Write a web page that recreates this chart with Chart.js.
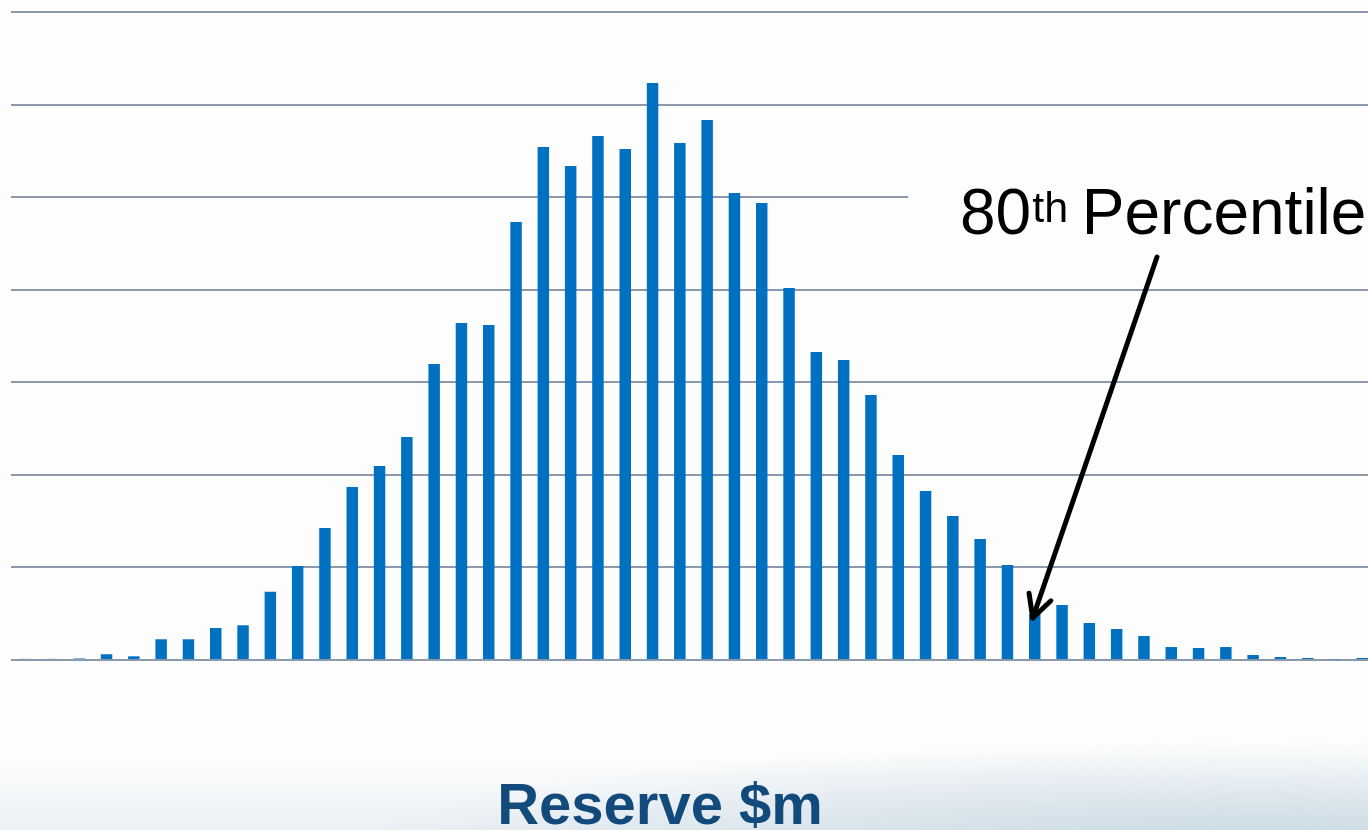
<!DOCTYPE html>
<html>
<head>
<meta charset="utf-8">
<title>Reserve distribution</title>
<script src="https://cdn.jsdelivr.net/npm/chart.js@4.4.1/dist/chart.umd.min.js"></script>
<style>
  html, body { margin: 0; padding: 0; width: 1368px; height: 830px; overflow: hidden; }
  body {
    background:
      radial-gradient(ellipse 900px 110px at 1260px 850px, rgba(196,214,225,0.9), rgba(196,214,225,0) 100%),
      linear-gradient(to bottom, rgba(228,236,241,0) 0, rgba(228,236,241,0) 755px, rgba(228,236,241,0.75) 830px),
      #fdfdfd;
  }
  #wrap { position: absolute; left: 0; top: 0; width: 1382px; height: 830px; }
</style>
</head>
<body>
<div id="wrap"><canvas id="chart" width="1382" height="830"></canvas></div>
<script>
// Simulated reserve outcomes, grouped into 50 bins of reserve ($m)
const reserveBins = [
  '1','2','3','4','5','6','7','8','9','10',
  '11','12','13','14','15','16','17','18','19','20',
  '21','22','23','24','25','26','27','28','29','30',
  '31','32','33','34','35','36','37','38','39','40',
  '41','42','43','44','45','46','47','48','49','50'
];

// Frequency of simulations falling in each bin
const frequency = [
  1.2, 1.2, 1.6, 6.2, 4.0, 22.4, 22.4, 34.6, 37.5, 73.8,
  101.5, 142.6, 186.9, 209.6, 240.9, 319.8, 364.0, 361.9, 473.2, 554.2,
  533.7, 566.1, 552.0, 623.3, 558.5, 583.3, 504.5, 493.7, 401.9, 332.7,
  324.1, 286.3, 221.5, 182.6, 155.6, 130.7, 102.6, 49.7, 59.4, 40.0,
  33.5, 25.9, 14.0, 13.0, 14.0, 5.4, 3.2, 2.2, 0.8, 2.2
];

// Frequency axis range and gridline spacing
const frequencyMax = 700;
const frequencyStep = 100;

// Bin holding the 80th percentile of the distribution
const percentileBin = '38';
const percentileText = { main: '80', sup: 'th', rest: ' Percentile' };
const axisTitle = 'Reserve $m';

const annotationPlugin = {
  id: 'percentileNote',
  afterDraw(chart) {
    const ctx = chart.ctx;
    const meta = chart.getDatasetMeta(0);
    const bar = meta.data[reserveBins.indexOf(percentileBin)];

    ctx.save();
    // white panel behind the label
    ctx.fillStyle = '#fdfdfd';
    ctx.fillRect(908, 150, 480, 96);

    // label text with superscript
    ctx.fillStyle = '#000';
    ctx.textBaseline = 'alphabetic';
    ctx.textAlign = 'left';
    let x = 960;
    ctx.font = '64px "Liberation Sans", Arial, sans-serif';
    ctx.fillText(percentileText.main, x, 234);
    x += ctx.measureText(percentileText.main).width + 1;
    ctx.font = '43px "Liberation Sans", Arial, sans-serif';
    ctx.fillText(percentileText.sup, x, 222);
    x += ctx.measureText(percentileText.sup).width - 4;
    ctx.font = '64px "Liberation Sans", Arial, sans-serif';
    ctx.fillText(percentileText.rest, x, 234);

    // arrow from the label to the percentile bar
    const sx = 1157, sy = 257;
    const tx = bar.x - 2, ty = bar.y + 4;
    ctx.strokeStyle = '#000';
    ctx.lineWidth = 5;
    ctx.lineCap = 'round';
    ctx.lineJoin = 'round';
    ctx.beginPath();
    ctx.moveTo(sx, sy);
    ctx.lineTo(tx, ty);
    ctx.stroke();
    const ang = Math.atan2(sy - ty, sx - tx);
    const head = 25, spread = 0.48;
    ctx.beginPath();
    ctx.moveTo(tx + head * Math.cos(ang - spread), ty + head * Math.sin(ang - spread));
    ctx.lineTo(tx, ty);
    ctx.lineTo(tx + head * Math.cos(ang + spread), ty + head * Math.sin(ang + spread));
    ctx.stroke();

    // axis title
    ctx.fillStyle = '#124b7b';
    ctx.font = 'bold 58px "Liberation Sans", Arial, sans-serif';
    ctx.textAlign = 'center';
    ctx.fillText(axisTitle, 660, 824);
    ctx.restore();
  }
};

new Chart(document.getElementById('chart'), {
  type: 'bar',
  data: {
    labels: reserveBins,
    datasets: [{
      data: frequency,
      backgroundColor: '#0070c0',
      borderWidth: 0,
      categoryPercentage: 1,
      barPercentage: 0.42
    }]
  },
  options: {
    responsive: false,
    animation: false,
    devicePixelRatio: 1,
    layout: { padding: { left: 11, right: 6, top: 12, bottom: 170 } },
    plugins: { legend: { display: false }, tooltip: { enabled: false }, title: { display: false } },
    scales: {
      x: { display: false },
      y: {
        min: 0,
        max: frequencyMax,
        ticks: { display: false, stepSize: frequencyStep },
        border: { display: false },
        grid: { color: '#8c98ac', lineWidth: 2, drawTicks: false }
      }
    }
  },
  plugins: [annotationPlugin]
});
</script>
</body>
</html>
